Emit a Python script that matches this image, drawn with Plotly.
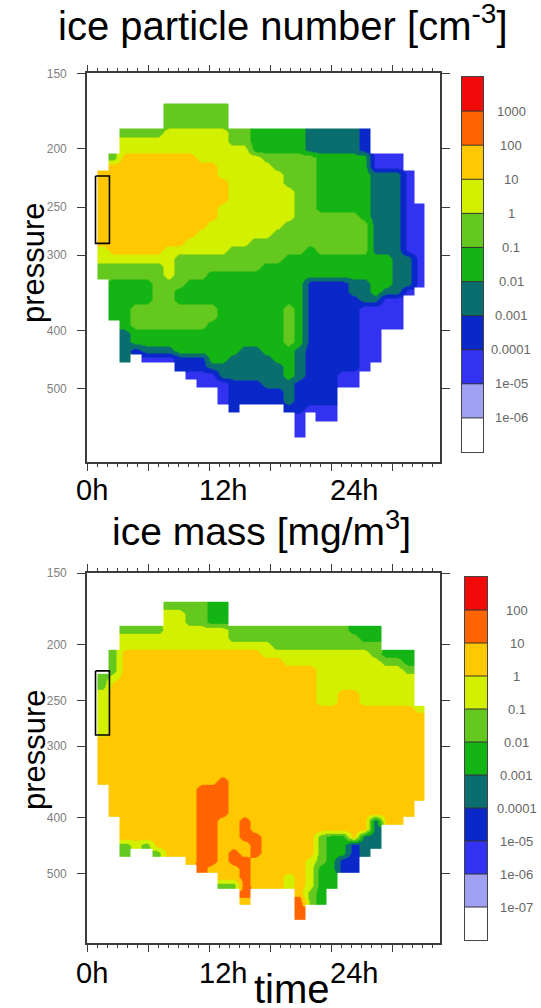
import math
import plotly.graph_objects as go

# ---------------- data ----------------
TIME_H = list(range(1, 31))          # column centres [h]
PRESSURE_HPA = [171.0, 176.5, 182.3, 188.2, 194.3, 200.6, 207.1, 213.8, 220.7, 227.8,
                235.2, 242.8, 250.7, 258.8, 267.2, 275.9, 284.8, 294.0, 303.6, 313.4,
                323.5, 334.0, 344.8, 356.0, 367.5, 379.4, 391.7, 404.4, 417.5, 431.1,
                445.0, 459.4, 474.3, 489.7, 505.5, 521.9, 538.8, 556.3, 574.3, 592.9,
                612.1]

BAND_COLORS = ['#FFFFFF', '#A0A0F5', '#3232F0', '#0A28C8', '#0A6E6E', '#14B414',
               '#64C81E', '#D2F000', '#FFC800', '#FF6400', '#F00A0A']

NUMBER_TICKS = ['1e-06', '1e-05', '0.0001', '0.001', '0.01', '0.1', '1', '10', '100', '1000']
MASS_TICKS = ['1e-07', '1e-06', '1e-05', '0.0001', '0.001', '0.01', '0.1', '1', '10', '100']
NUMBER_LOG_MIN = -7   # log10 of lower edge of lowest (white) band
MASS_LOG_MIN = -8

# per time column: (colour band, first pressure level index, last pressure level index)
NUMBER_RUNS = [
    [(8, 8, 16), (7, 17, 18), (6, 19, 20)],
    [(6, 6, 6), (8, 7, 17), (7, 18, 18), (6, 19, 20), (5, 21, 25)],
    [(6, 3, 3), (7, 4, 5), (8, 6, 17), (7, 18, 18), (6, 19, 20), (5, 21, 26), (4, 27, 30)],
    [(6, 3, 3), (7, 4, 5), (8, 6, 17), (7, 18, 18), (6, 19, 20), (5, 21, 23), (6, 24, 26), (5, 27, 28), (3, 29, 29)],
    [(6, 3, 3), (7, 4, 5), (8, 6, 17), (7, 18, 18), (6, 19, 20), (5, 21, 23), (6, 24, 26), (5, 27, 28), (4, 29, 29), (2, 30, 30)],
    [(6, 3, 3), (7, 4, 5), (8, 6, 17), (7, 18, 18), (6, 19, 26), (5, 27, 28), (4, 29, 29), (2, 30, 30)],
    [(6, 0, 2), (7, 3, 5), (8, 6, 16), (7, 17, 20), (6, 21, 26), (5, 27, 28), (4, 29, 29), (2, 30, 30)],
    [(6, 0, 2), (7, 3, 5), (8, 6, 16), (7, 17, 17), (6, 18, 21), (5, 22, 23), (6, 24, 26), (5, 27, 29), (3, 30, 31)],
    [(6, 0, 2), (7, 3, 5), (8, 6, 15), (7, 16, 17), (6, 18, 20), (5, 21, 23), (6, 24, 26), (5, 27, 29), (3, 30, 31), (2, 32, 32)],
    [(6, 0, 2), (7, 3, 6), (8, 7, 14), (7, 15, 17), (6, 18, 20), (5, 21, 23), (6, 24, 26), (5, 27, 29), (3, 30, 31), (2, 32, 33)],
    [(6, 0, 2), (7, 3, 6), (8, 7, 13), (7, 14, 17), (6, 18, 19), (5, 20, 23), (6, 24, 25), (5, 26, 30), (4, 31, 31), (2, 32, 33)],
    [(6, 0, 2), (7, 3, 8), (8, 9, 11), (7, 12, 17), (6, 18, 19), (5, 20, 30), (4, 31, 32), (2, 33, 35)],
    [(6, 3, 4), (7, 5, 16), (6, 17, 19), (5, 20, 29), (4, 30, 32), (3, 33, 36)],
    [(6, 3, 4), (7, 5, 16), (6, 17, 19), (5, 20, 28), (4, 29, 32), (3, 33, 35)],
    [(5, 3, 5), (7, 6, 15), (6, 16, 19), (5, 20, 28), (4, 29, 32), (3, 33, 35)],
    [(5, 3, 5), (6, 6, 6), (7, 7, 15), (6, 16, 18), (5, 19, 29), (4, 30, 33), (3, 34, 35)],
    [(5, 3, 5), (6, 6, 7), (7, 8, 14), (6, 15, 18), (5, 19, 30), (4, 31, 33), (3, 34, 35)],
    [(5, 3, 5), (6, 6, 9), (7, 10, 13), (6, 14, 17), (5, 18, 23), (6, 24, 28), (5, 29, 32), (4, 33, 35), (3, 36, 36)],
    [(5, 3, 5), (6, 6, 17), (5, 18, 28), (4, 29, 32), (3, 33, 36), (2, 37, 39)],
    [(4, 3, 5), (6, 6, 16), (5, 17, 20), (3, 21, 35), (2, 36, 36)],
    [(4, 3, 5), (5, 6, 12), (6, 13, 17), (5, 18, 20), (3, 21, 35), (2, 36, 37)],
    [(4, 3, 5), (5, 6, 12), (6, 13, 17), (5, 18, 20), (3, 21, 35), (2, 36, 37)],
    [(4, 3, 5), (5, 6, 12), (6, 13, 17), (5, 18, 20), (3, 21, 31), (2, 32, 33)],
    [(4, 3, 5), (5, 6, 12), (6, 13, 17), (5, 18, 20), (4, 21, 22), (3, 23, 31), (2, 32, 33)],
    [(3, 3, 5), (5, 6, 13), (6, 14, 17), (5, 18, 20), (4, 21, 23), (2, 24, 31)],
    [(2, 6, 7), (4, 8, 17), (5, 18, 22), (4, 23, 23), (2, 24, 30)],
    [(2, 6, 7), (4, 8, 17), (5, 18, 21), (4, 22, 22), (2, 23, 26)],
    [(2, 6, 7), (4, 8, 22), (2, 23, 26)],
    [(2, 8, 17), (4, 18, 21), (2, 22, 22)],
    [(2, 12, 21)],
]

MASS_RUNS = [
    [(6, 9, 10), (7, 11, 16), (8, 17, 22)],
    [(6, 6, 8), (7, 9, 9), (8, 10, 26)],
    [(6, 3, 3), (7, 4, 5), (8, 6, 29), (6, 30, 31)],
    [(6, 3, 3), (7, 4, 5), (8, 6, 29), (7, 30, 30)],
    [(6, 3, 3), (7, 4, 5), (8, 6, 29), (6, 30, 30)],
    [(6, 3, 3), (7, 4, 5), (8, 6, 30), (6, 31, 31)],
    [(6, 0, 0), (7, 1, 5), (8, 6, 31)],
    [(6, 0, 0), (7, 1, 5), (8, 6, 31)],
    [(6, 0, 2), (7, 3, 5), (8, 6, 32)],
    [(6, 0, 2), (7, 3, 5), (8, 6, 22), (9, 23, 33)],
    [(5, 0, 2), (7, 3, 5), (8, 6, 22), (9, 23, 32), (8, 33, 33)],
    [(5, 0, 2), (7, 3, 5), (8, 6, 21), (9, 22, 26), (8, 27, 34), (6, 35, 35)],
    [(6, 3, 4), (7, 5, 5), (8, 6, 30), (9, 31, 32), (8, 33, 34), (6, 35, 35)],
    [(6, 3, 4), (7, 5, 5), (8, 6, 26), (9, 27, 29), (8, 30, 31), (9, 32, 36), (8, 37, 37)],
    [(6, 3, 4), (7, 5, 5), (8, 6, 28), (9, 29, 31), (8, 32, 35)],
    [(6, 3, 4), (7, 5, 6), (8, 7, 35)],
    [(6, 3, 5), (7, 6, 6), (8, 7, 35)],
    [(6, 3, 5), (7, 6, 7), (8, 8, 33), (7, 34, 35)],
    [(6, 3, 5), (7, 6, 7), (8, 8, 36), (9, 37, 39)],
    [(6, 3, 5), (7, 6, 7), (8, 8, 31), (7, 32, 35), (6, 36, 37)],
    [(6, 3, 5), (7, 6, 12), (8, 13, 28), (6, 29, 32), (5, 33, 37)],
    [(6, 3, 5), (7, 6, 12), (8, 13, 28), (5, 29, 35)],
    [(6, 3, 5), (7, 6, 10), (8, 11, 28), (5, 29, 31), (3, 32, 33)],
    [(5, 3, 3), (6, 4, 5), (7, 6, 10), (8, 11, 29), (3, 30, 33)],
    [(5, 3, 4), (6, 5, 5), (7, 6, 12), (8, 13, 28), (4, 29, 31)],
    [(5, 3, 4), (6, 5, 6), (7, 7, 12), (8, 13, 26), (4, 27, 30)],
    [(5, 6, 6), (6, 7, 7), (7, 8, 12), (8, 13, 27)],
    [(5, 6, 6), (6, 7, 7), (7, 8, 12), (8, 13, 27)],
    [(5, 6, 7), (6, 8, 8), (7, 9, 12), (8, 13, 26)],
    [(7, 13, 13), (8, 14, 24)],
]

BOX_TIME = [0.32, 1.6]
BOX_PRESSURE = [222, 287]
Y_TICKS = [150, 200, 250, 300, 400, 500]
X_LABELS = [(0, '0h'), (12, '12h'), (24, '24h')]
P_RANGE = [150, 660]

FONT = 'Liberation Sans, Arial, Helvetica, sans-serif'
AX = '#3c3c3c'


def build_field(runs, log_min):
    z = [[None] * len(TIME_H) for _ in PRESSURE_HPA]
    for c, col in enumerate(runs):
        for band, r0, r1 in col:
            for r in range(r0, r1 + 1):
                z[r][c] = log_min + band + 0.5
    return z


n = len(BAND_COLORS)
colorscale = []
for k, col in enumerate(BAND_COLORS):
    colorscale.append([k / n, col])
    colorscale.append([(k + 1) / n, col])

fig = go.Figure()

panels = [
    (NUMBER_RUNS, NUMBER_LOG_MIN, NUMBER_TICKS, 'x', 'y', 'x3', 'y3'),
    (MASS_RUNS, MASS_LOG_MIN, MASS_TICKS, 'x2', 'y2', 'x4', 'y4'),
]
for runs, lmin, ticks, xa, ya, cxa, cya in panels:
    fig.add_trace(go.Heatmap(
        x=TIME_H, y=PRESSURE_HPA, z=build_field(runs, lmin),
        colorscale=colorscale, zmin=lmin, zmax=lmin + n, zsmooth='best',
        showscale=False, hoverinfo='skip', xaxis=xa, yaxis=ya))
    fig.add_trace(go.Scatter(
        x=[BOX_TIME[0], BOX_TIME[1], BOX_TIME[1], BOX_TIME[0], BOX_TIME[0]],
        y=[BOX_PRESSURE[0], BOX_PRESSURE[0], BOX_PRESSURE[1], BOX_PRESSURE[1], BOX_PRESSURE[0]],
        mode='lines', line=dict(color='black', width=1.6), hoverinfo='skip',
        xaxis=xa, yaxis=ya))
    # colour key
    centres = [lmin + k + 0.5 for k in range(n)]
    fig.add_trace(go.Heatmap(
        x=[0], y=centres, z=[[v] for v in centres], colorscale=colorscale,
        zmin=lmin, zmax=lmin + n, showscale=False, hoverinfo='skip',
        xaxis=cxa, yaxis=cya))
    sx, sy = [], []
    for k in range(1, n):
        sx += [-0.5, 0.5, None]
        sy += [lmin + k, lmin + k, None]
    fig.add_trace(go.Scatter(x=sx, y=sy, mode='lines', line=dict(color='#333333', width=1),
                             hoverinfo='skip', xaxis=cxa, yaxis=cya))

W, H = 541, 1008
xdom = [87 / W, 440 / W]
top_dom = [1 - 461.7 / H, 1 - 73.3 / H]
bot_dom = [1 - 943 / H, 1 - 573 / H]

xcommon = dict(range=[-0.46, 31.93], domain=xdom, showline=True, linecolor=AX, linewidth=1.6,
               mirror='ticks', ticks='outside', ticklen=7, tickwidth=1.3, tickcolor=AX,
               tick0=-0.46, dtick=5.6, showticklabels=False, showgrid=False, zeroline=False,
               automargin=False,
               minor=dict(ticks='outside', ticklen=3.5, tickwidth=1, tickcolor=AX,
                          tick0=-0.46, dtick=5.6 / 6, showgrid=False))
ycommon = dict(type='log', range=[math.log10(P_RANGE[1]), math.log10(P_RANGE[0])],
               tickvals=Y_TICKS, ticktext=[str(v) for v in Y_TICKS], ticks='outside',
               ticklen=8, tickwidth=1.3, tickcolor=AX, showline=True, linecolor=AX,
               linewidth=1.6, mirror='ticks', ticklabelstandoff=8, automargin=False,
               tickfont=dict(size=12, color='#808080', family=FONT),
               showgrid=False, zeroline=False)
cbx = dict(range=[-0.5, 0.5], showline=True, mirror=True, linecolor='#444444', linewidth=1.2,
           showticklabels=False, ticks='', showgrid=False, zeroline=False, automargin=False)
cby = dict(showline=True, mirror=True, linecolor='#444444', linewidth=1.2,
           showticklabels=False, ticks='', showgrid=False, zeroline=False, automargin=False)

fig.update_layout(
    width=W, height=H, margin=dict(l=0, r=0, t=0, b=0, pad=0, autoexpand=False),
    paper_bgcolor='white', plot_bgcolor='white', showlegend=False,
    font=dict(family=FONT, color='black'),
    xaxis=dict(xcommon, anchor='y'),
    yaxis=dict(ycommon, domain=top_dom, anchor='x'),
    xaxis2=dict(xcommon, anchor='y2'),
    yaxis2=dict(ycommon, domain=bot_dom, anchor='x2'),
    xaxis3=dict(cbx, domain=[462 / W, 483 / W], anchor='y3'),
    yaxis3=dict(cby, domain=[1 - 452 / H, 1 - 77 / H], range=[NUMBER_LOG_MIN, NUMBER_LOG_MIN + n], anchor='x3'),
    xaxis4=dict(cbx, domain=[465 / W, 487 / W], anchor='y4'),
    yaxis4=dict(cby, domain=[1 - 940 / H, 1 - 577 / H], range=[MASS_LOG_MIN, MASS_LOG_MIN + n], anchor='x4'),
)

ann = []
ann.append(dict(text='ice particle number [cm<sup>-3</sup>]', xref='paper', yref='paper',
                x=283 / W, y=1 - 23 / H, showarrow=False, font=dict(size=40),
                xanchor='center', yanchor='middle'))
ann.append(dict(text='ice mass [mg/m<sup>3</sup>]', xref='paper', yref='paper',
                x=261 / W, y=1 - 528 / H, showarrow=False, font=dict(size=39),
                xanchor='center', yanchor='middle'))
for yc in (263, 750):
    ann.append(dict(text='pressure', xref='paper', yref='paper', x=34 / W, y=1 - yc / H,
                    textangle=-90, showarrow=False, font=dict(size=31),
                    xanchor='center', yanchor='middle'))
for xa, yc in (('x', 490), ('x2', 973)):
    for tv, tt in X_LABELS:
        ann.append(dict(text=tt, xref=xa, yref='paper', x=tv, y=1 - yc / H, showarrow=False,
                        font=dict(size=29), xanchor='center', yanchor='middle'))
ann.append(dict(text='time', xref='paper', yref='paper', x=292 / W, y=1 - 989 / H,
                showarrow=False, font=dict(size=40), xanchor='center', yanchor='middle'))
for ticks, lmin, cxa, cya in ((NUMBER_TICKS, NUMBER_LOG_MIN, 'x3', 'y3'),
                               (MASS_TICKS, MASS_LOG_MIN, 'x4', 'y4')):
    for k, t in enumerate(ticks):
        ann.append(dict(text=t, xref=cxa + ' domain', yref=cya, x=2.35, y=lmin + k + 1,
                        showarrow=False, font=dict(size=13, color='#666666'),
                        xanchor='center', yanchor='middle'))
fig.update_layout(annotations=ann)

fig.write_html('out.html',
               config={'displayModeBar': False, 'responsive': False},
               post_script="document.documentElement.style.margin='0';"
                           "document.body.style.margin='0';"
                           "document.body.style.padding='0';"
                           "document.body.style.overflow='hidden';")
